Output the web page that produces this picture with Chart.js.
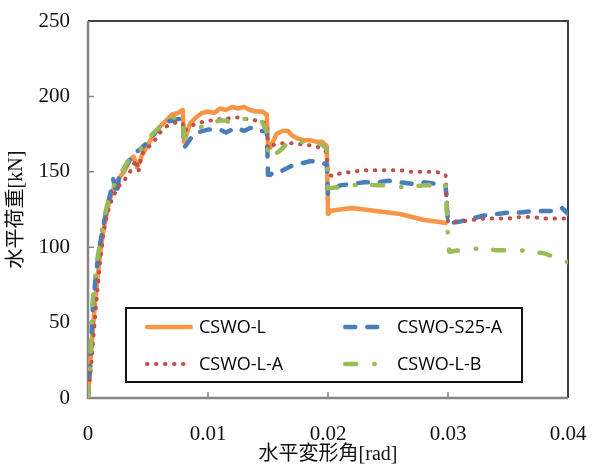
<!DOCTYPE html>
<html>
<head>
<meta charset="utf-8">
<script src="https://cdn.jsdelivr.net/npm/chart.js@4/dist/chart.umd.min.js"></script>
<style>
  body { margin: 0; background: #fff; }
  canvas { display: block; }
</style>
</head>
<body>
<canvas id="loadChart" width="593" height="465"></canvas>
<script>
// 水平変形角 [rad] / 水平荷重 [kN]
const seriesNames = ['CSWO-L', 'CSWO-S25-A', 'CSWO-L-A', 'CSWO-L-B']

const xTicks = [0, 0.01, 0.02, 0.03, 0.04]
const yTicks = [0, 50, 100, 150, 200, 250]

const cswoLX = [0, 0.0003, 0.0006, 0.001, 0.0013, 0.0017, 0.002, 0.0025, 0.003, 0.0035, 0.0038, 0.0041, 0.0045, 0.005, 0.0055, 0.006, 0.0065, 0.007, 0.0075, 0.0079, 0.008, 0.0081, 0.0085, 0.009, 0.0095, 0.01, 0.0105, 0.011, 0.0115, 0.012, 0.0125, 0.013, 0.0135, 0.014, 0.0145, 0.0149, 0.015, 0.0152, 0.0157, 0.0162, 0.0167, 0.017, 0.0175, 0.018, 0.0185, 0.019, 0.0195, 0.0199, 0.02, 0.0202, 0.021, 0.022, 0.023, 0.024, 0.025, 0.026, 0.027, 0.028, 0.029, 0.0298]
const cswoLY = [0, 35, 65, 95, 112, 128, 137, 145, 150, 158, 160, 153, 161, 168, 175, 180, 184, 188, 189, 191, 170, 172, 182, 186, 189, 190, 189, 192, 191, 193, 192, 193, 191, 190, 190, 188, 168, 166, 175, 177, 177, 174, 172, 171, 171, 170, 170, 167, 122, 124, 125, 126, 125, 124, 123, 122, 120, 118, 117, 116]

const cswoS25X = [0, 0.0002, 0.0004, 0.0007, 0.001, 0.0013, 0.0016, 0.002, 0.0021, 0.0024, 0.0026, 0.003, 0.0035, 0.004, 0.0045, 0.005, 0.0055, 0.006, 0.0065, 0.007, 0.0075, 0.0079, 0.008, 0.0082, 0.0088, 0.0095, 0.01, 0.011, 0.0115, 0.012, 0.0125, 0.013, 0.0135, 0.014, 0.0145, 0.0149, 0.015, 0.0152, 0.0155, 0.016, 0.0165, 0.017, 0.0175, 0.018, 0.0185, 0.019, 0.0195, 0.0199, 0.02, 0.0202, 0.021, 0.022, 0.023, 0.024, 0.025, 0.026, 0.027, 0.028, 0.029, 0.0298, 0.03, 0.0302, 0.031, 0.032, 0.033, 0.034, 0.035, 0.036, 0.037, 0.038, 0.039, 0.0395, 0.04]
const cswoS25Y = [0, 25, 60, 85, 102, 115, 127, 140, 145, 135, 147, 152, 158, 163, 166, 170, 175, 180, 183, 184, 185, 185, 166, 168, 175, 177, 178, 178, 176, 178, 179, 177, 179, 179, 177, 178, 148, 148, 150, 150, 152, 154, 155, 156, 157, 157, 156, 155, 135, 137, 141, 142, 143, 143, 144, 143, 142, 143, 142, 141, 116, 116, 117, 119, 121, 122, 123, 123, 124, 124, 124, 126, 122]

const cswoLAX = [0, 0.0003, 0.0006, 0.001, 0.0013, 0.0016, 0.002, 0.0025, 0.003, 0.0035, 0.004, 0.0042, 0.0045, 0.005, 0.0055, 0.006, 0.0065, 0.007, 0.0075, 0.0079, 0.008, 0.0085, 0.009, 0.0095, 0.01, 0.0105, 0.011, 0.0115, 0.012, 0.0125, 0.013, 0.0135, 0.014, 0.0145, 0.0149, 0.015, 0.0155, 0.016, 0.017, 0.018, 0.019, 0.0199, 0.02, 0.0205, 0.021, 0.022, 0.023, 0.024, 0.025, 0.026, 0.027, 0.028, 0.029, 0.0298, 0.03, 0.031, 0.032, 0.033, 0.034, 0.035, 0.036, 0.037, 0.038, 0.039, 0.04]
const cswoLAY = [0, 25, 55, 90, 110, 122, 132, 140, 144, 150, 158, 150, 162, 166, 170, 176, 180, 182, 183, 182, 177, 180, 182, 183, 184, 184, 185, 185, 186, 186, 185, 185, 184, 183, 182, 165, 168, 169, 169, 168, 167, 163, 148, 147, 149, 150, 151, 151, 151, 151, 150, 150, 150, 148, 117, 117, 118, 119, 119, 119, 120, 120, 119, 119, 119]

const cswoLBX = [0, 0.0002, 0.0004, 0.0007, 0.001, 0.0013, 0.0016, 0.002, 0.0025, 0.003, 0.0035, 0.004, 0.0045, 0.005, 0.0055, 0.006, 0.0065, 0.007, 0.0075, 0.0079, 0.008, 0.0085, 0.009, 0.0095, 0.01, 0.0105, 0.011, 0.0115, 0.012, 0.0125, 0.013, 0.0135, 0.014, 0.0145, 0.0149, 0.015, 0.0153, 0.016, 0.0165, 0.017, 0.0175, 0.018, 0.0185, 0.019, 0.0195, 0.0199, 0.02, 0.021, 0.022, 0.023, 0.024, 0.025, 0.026, 0.027, 0.028, 0.029, 0.0298, 0.03, 0.0301, 0.031, 0.032, 0.033, 0.034, 0.035, 0.036, 0.037, 0.038, 0.039, 0.04]
const cswoLBY = [0, 28, 65, 88, 103, 118, 128, 138, 147, 152, 160, 162, 166, 172, 176, 180, 184, 186, 186, 184, 173, 175, 178, 180, 182, 183, 184, 184, 182, 184, 185, 185, 184, 183, 177, 160, 160, 164, 168, 170, 170, 170, 170, 169, 168, 165, 139, 140, 141, 142, 141, 141, 140, 140, 141, 141, 142, 107, 97, 98, 99, 99, 98, 98, 98, 97, 96, 93, 90]

function toPoints(xs, ys) {
  return xs.map((x, i) => ({ x, y: ys[i] }))
}

const tickFont = { family: "'Liberation Serif', 'Noto Sans CJK JP', serif", size: 21 }
const titleFont = { family: "'Liberation Serif', 'Noto Sans CJK JP', serif", size: 20, lineHeight: 1 }

// 枠線と内向きの目盛
const framePlugin = {
  id: 'frame',
  beforeDatasetsDraw(chart) {
    const { ctx, chartArea: a, scales } = chart
    ctx.save()
    ctx.lineCap = 'butt'
    ctx.strokeStyle = '#404040'
    ctx.lineWidth = 2
    ctx.beginPath()
    ctx.moveTo(a.left, a.top)
    ctx.lineTo(a.right, a.top)
    ctx.lineTo(a.right, a.bottom)
    ctx.stroke()

    ctx.strokeStyle = '#868686'
    ctx.lineWidth = 2.5
    ctx.beginPath()
    ctx.moveTo(a.left, a.top)
    ctx.lineTo(a.left, a.bottom)
    ctx.lineTo(a.right, a.bottom)
    ctx.stroke()

    ctx.lineWidth = 1.5
    ctx.beginPath()
    yTicks.slice(1, -1).forEach(v => {
      const y = scales.y.getPixelForValue(v)
      ctx.moveTo(a.left, y)
      ctx.lineTo(a.left + 6, y)
    })
    xTicks.slice(1, -1).forEach(v => {
      const x = scales.x.getPixelForValue(v)
      ctx.moveTo(x, a.bottom)
      ctx.lineTo(x, a.bottom - 6)
    })
    ctx.stroke()
    ctx.restore()
  }
}

// 凡例（グラフ内の枠付き）
const boxLegendPlugin = {
  id: 'boxLegend',
  afterDatasetsDraw(chart) {
    const { ctx } = chart
    const box = { left: 126, top: 308, right: 522, bottom: 382 }
    const cols = [{ x0: 145, x1: 193, tx: 199 }, { x0: 343, x1: 388, tx: 397 }]
    const rows = [327, 364]

    ctx.save()
    ctx.fillStyle = '#fff'
    ctx.fillRect(box.left, box.top, box.right - box.left, box.bottom - box.top)
    ctx.strokeStyle = '#111'
    ctx.lineWidth = 2
    ctx.strokeRect(box.left, box.top, box.right - box.left, box.bottom - box.top)

    chart.data.datasets.forEach((ds, i) => {
      const col = cols[i % 2]
      const y = rows[Math.floor(i / 2)]
      ctx.save()
      ctx.strokeStyle = ds.borderColor
      ctx.lineWidth = ds.borderWidth
      ctx.lineCap = ds.borderCapStyle || 'butt'
      ctx.setLineDash(ds.borderDash || [])
      ctx.beginPath()
      ctx.moveTo(col.x0 + ds.borderWidth / 2, y)
      ctx.lineTo(col.x1 - ds.borderWidth / 2, y)
      ctx.stroke()
      ctx.restore()

      ctx.fillStyle = '#000'
      ctx.font = "18px 'Open Sans', sans-serif"
      ctx.textBaseline = 'middle'
      ctx.textAlign = 'left'
      ctx.fillText(ds.label, col.tx, y + 1)
    })
    ctx.restore()
  }
}

const ctx = document.getElementById('loadChart').getContext('2d')

new Chart(ctx, {
  type: 'scatter',
  data: {
    datasets: [
      {
        label: seriesNames[0],
        data: toPoints(cswoLX, cswoLY),
        borderColor: '#F79646',
        borderWidth: 4.5,
        borderCapStyle: 'round',
        borderJoinStyle: 'round',
        order: 4,
      },
      {
        label: seriesNames[1],
        data: toPoints(cswoS25X, cswoS25Y),
        borderColor: '#4A7EBB',
        borderWidth: 4.5,
        borderDash: [10, 12],
        borderCapStyle: 'round',
        borderJoinStyle: 'round',
        order: 3,
      },
      {
        label: seriesNames[2],
        data: toPoints(cswoLAX, cswoLAY),
        borderColor: '#C0504D',
        borderWidth: 4,
        borderDash: [0.5, 8.5],
        borderCapStyle: 'round',
        borderJoinStyle: 'round',
        order: 2,
      },
      {
        label: seriesNames[3],
        data: toPoints(cswoLBX, cswoLBY),
        borderColor: '#9BBB59',
        borderWidth: 4.5,
        borderDash: [11, 18, 0.5, 17],
        borderCapStyle: 'round',
        borderJoinStyle: 'round',
        order: 1,
      },
    ]
  },
  options: {
    responsive: false,
    animation: false,
    showLine: true,
    layout: { padding: { left: 7, top: 21, right: 25, bottom: 0 } },
    elements: {
      point: { radius: 0, hoverRadius: 0 },
      line: { tension: 0, fill: false },
    },
    scales: {
      x: {
        type: 'linear',
        min: 0,
        max: 0.04,
        grid: { display: false, drawTicks: false },
        border: { display: false },
        ticks: {
          stepSize: 0.01,
          padding: 24,
          color: '#111',
          font: tickFont,
          callback: (v) => v === 0 ? '0' : v.toFixed(2),
        },
        title: { display: true, text: '水平変形角[rad]', color: '#111', font: titleFont, padding: 0 },
        afterFit: (s) => {
          s.height = 67
          s.paddingLeft = 0
          s.paddingRight = 0
        },
      },
      y: {
        min: 0,
        max: 250,
        grid: { display: false, drawTicks: false },
        border: { display: false },
        ticks: {
          stepSize: 50,
          padding: 18,
          color: '#111',
          font: tickFont,
        },
        title: { display: true, text: '水平荷重[kN]', color: '#111', font: titleFont, padding: 0 },
        afterFit: (s) => {
          s.width = 81
          s.paddingTop = 0
          s.paddingBottom = 0
        },
      },
    },
    plugins: {
      legend: { display: false },
      tooltip: { enabled: false },
    },
  },
  plugins: [framePlugin, boxLegendPlugin],
})
</script>
</body>
</html>
